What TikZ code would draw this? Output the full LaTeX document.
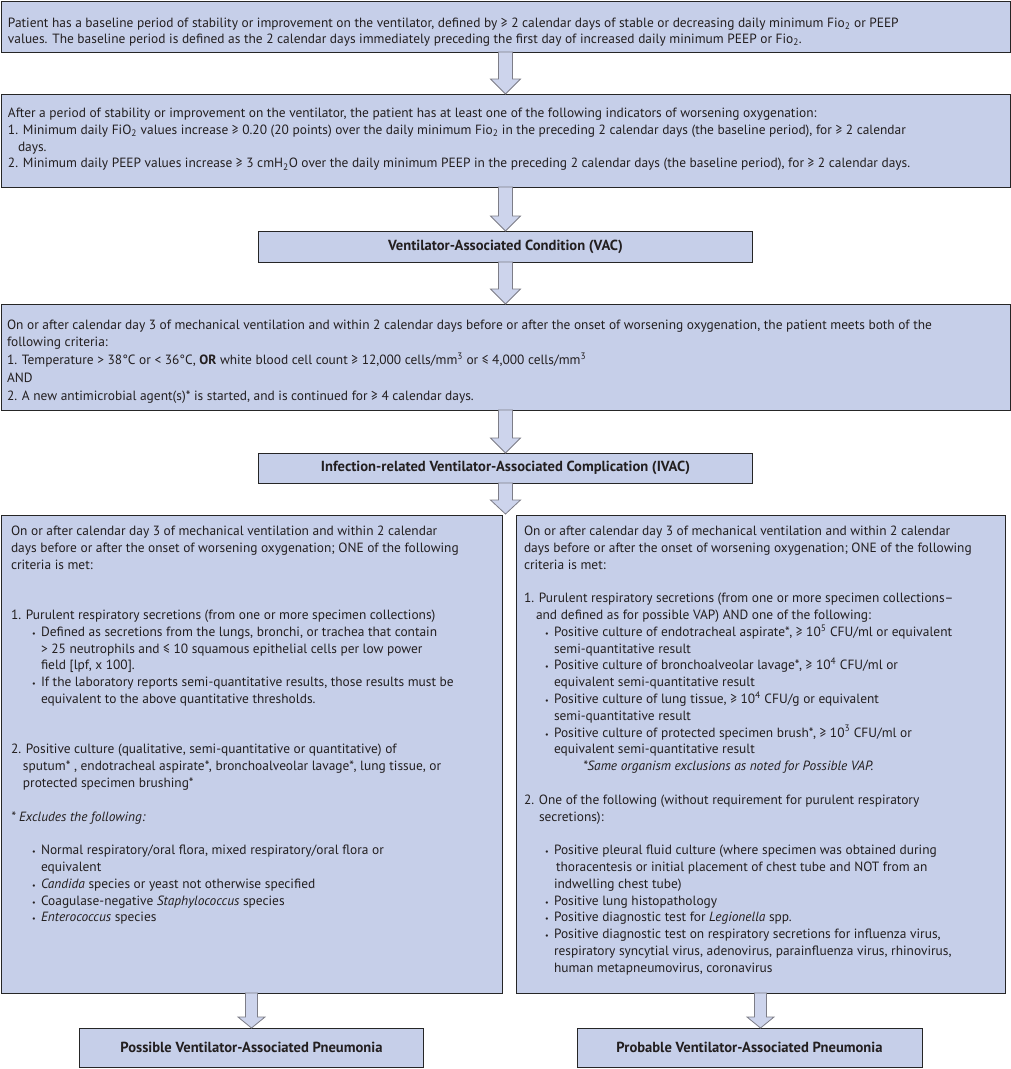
\documentclass[tikz,border=0pt]{standalone}
\usepackage{fontspec}
\setmainfont{PT Sans}
\usetikzlibrary{positioning,calc}

\definecolor{panelblue}{RGB}{198,207,233}
\definecolor{arrowblue}{RGB}{205,212,236}
\definecolor{arrowedge}{RGB}{125,125,135}
\definecolor{inkgray}{RGB}{35,31,32}

% text block of a panel: width, height, first baseline, lines
\newcommand{\boxbody}[4]{\parbox[c][#2][t]{#1}{\raggedright\rule{0pt}{#3}#4}}
\newcommand{\bul}{\hspace*{21pt}\makebox[9pt][l]{\footnotesize•}}
\newcommand{\cont}{\hspace*{30pt}}
% hollow down arrow: from, to, half shaft, half head, head length
\newcommand{\blockarrow}[5]{%
  \draw[blockarr] let \p1=(#1), \p2=(#2) in
    (\x1-#3,\y1) -- (\x1+#3,\y1) -- (\x1+#3,\y2+#5) -- (\x1+#4,\y2+#5)
    -- (\x1,\y2) -- (\x1-#4,\y2+#5) -- (\x1-#3,\y2+#5) -- cycle;}

\begin{document}
\begin{tikzpicture}[x=1pt,y=1pt,
  font=\fontsize{13.4}{16.8}\selectfont,
  panel/.style={draw=black!85,line width=1pt,fill=panelblue,text=inkgray,
                inner ysep=0pt,outer sep=0pt},
  title/.style={panel,font=\fontsize{14.6}{16}\selectfont\bfseries,
                inner sep=0pt,align=center},
  blockarr/.style={draw=arrowedge,fill=arrowblue,line width=0.8pt}
]
\useasboundingbox (0,0) rectangle (1011,-1069);

\node[panel,anchor=north west,inner xsep=7pt] (base) at (1,-1)
 {\boxbody{995pt}{51pt}{26pt}{%
  Patient has a baseline period of stability or improvement on the ventilator, defined by ≥ 2 calendar days of stable or decreasing daily minimum Fio\textsubscript{2} or PEEP\\
  values. The baseline period is defined as the 2 calendar days immediately preceding the first day of increased daily minimum PEEP or Fio\textsubscript{2}.}};
\node[panel,below=42pt of base,inner xsep=7pt] (worse)
 {\boxbody{995pt}{93pt}{23.5pt}{%
  After a period of stability or improvement on the ventilator, the patient has at least one of the following indicators of worsening oxygenation:\\
  1. Minimum daily FiO\textsubscript{2} values increase ≥ 0.20 (20 points) over the daily minimum Fio\textsubscript{2} in the preceding 2 calendar days (the baseline period), for ≥ 2 calendar\\
  \hspace*{10pt}days.\\
  2. Minimum daily PEEP values increase ≥ 3 cmH\textsubscript{2}O over the daily minimum PEEP in the preceding 2 calendar days (the baseline period), for ≥ 2 calendar days.}};
\node[title,below=44pt of worse,minimum width=494pt,minimum height=31pt] (vac)
 {Ventilator-Associated Condition (VAC)};
\node[panel,below=42pt of vac,inner xsep=6pt,
      font=\fontsize{13.4}{17.9}\selectfont] (crit)
 {\boxbody{997pt}{106pt}{25pt}{%
  On or after calendar day 3 of mechanical ventilation and within 2 calendar days before or after the onset of worsening oxygenation, the patient meets both of the\\
  following criteria:\\
  1. Temperature > 38°C or < 36°C, \textbf{OR} white blood cell count ≥ 12,000 cells/mm\textsuperscript{3} or ≤ 4,000 cells/mm\textsuperscript{3}\\
  AND\\
  2. A new antimicrobial agent(s)* is started, and is continued for ≥ 4 calendar days.}};
\node[title,below=43pt of crit,minimum width=494pt,minimum height=30pt] (ivac)
 {Infection-related Ventilator-Associated Complication (IVAC)};
\coordinate[below=31pt of ivac] (split);

\node[panel,anchor=north west,inner xsep=10pt] (possbox) at (1,-515)
 {\boxbody{481pt}{478pt}{20.5pt}{%
  On or after calendar day 3 of mechanical ventilation and within 2 calendar\\
  days before or after the onset of worsening oxygenation; ONE of the following\\
  criteria is met:\\[33.6pt]
  1. Purulent respiratory secretions (from one or more specimen collections)\\
  \bul Defined as secretions from the lungs, bronchi, or trachea that contain\\
  \cont > 25 neutrophils and ≤ 10 squamous epithelial cells per low power\\
  \cont field [lpf, x 100].\\
  \bul If the laboratory reports semi-quantitative results, those results must be\\
  \cont equivalent to the above quantitative thresholds.\\[33.6pt]
  2. Positive culture (qualitative, semi-quantitative or quantitative) of\\
  \hspace*{12pt}sputum* , endotracheal aspirate*, bronchoalveolar lavage*, lung tissue, or\\
  \hspace*{12pt}protected specimen brushing*\\[16.8pt]
  \textit{* Excludes the following:}\\[16.8pt]
  \bul Normal respiratory/oral flora, mixed respiratory/oral flora or\\
  \cont equivalent\\
  \bul \textit{Candida} species or yeast not otherwise specified\\
  \bul Coagulase-negative \textit{Staphylococcus} species\\
  \bul \textit{Enterococcus} species}};
\node[panel,anchor=north west,inner xsep=8pt] (probbox) at (516,-515)
 {\boxbody{473pt}{478pt}{20.5pt}{%
  On or after calendar day 3 of mechanical ventilation and within 2 calendar\\
  days before or after the onset of worsening oxygenation; ONE of the following\\
  criteria is met:\\[16.8pt]
  1. Purulent respiratory secretions (from one or more specimen collections–\\
  \hspace*{12pt}and defined as for possible VAP) AND one of the following:\\
  \bul Positive culture of endotracheal aspirate*, ≥ 10\textsuperscript{5} CFU/ml or equivalent\\
  \cont semi-quantitative result\\
  \bul Positive culture of bronchoalveolar lavage*, ≥ 10\textsuperscript{4} CFU/ml or\\
  \cont equivalent semi-quantitative result\\
  \bul Positive culture of lung tissue, ≥ 10\textsuperscript{4} CFU/g or equivalent\\
  \cont semi-quantitative result\\
  \bul Positive culture of protected specimen brush*, ≥ 10\textsuperscript{3} CFU/ml or\\
  \cont equivalent semi-quantitative result\\
  \hspace*{59pt}\textit{*Same organism exclusions as noted for Possible VAP.}\\[16.8pt]
  2. One of the following (without requirement for purulent respiratory\\
  \hspace*{15pt}secretions):\\[16.8pt]
  \bul Positive pleural fluid culture (where specimen was obtained during\\
  \hspace*{32pt}thoracentesis or initial placement of chest tube and NOT from an\\
  \cont indwelling chest tube)\\
  \bul Positive lung histopathology\\
  \bul Positive diagnostic test for \textit{Legionella} spp.\\
  \bul Positive diagnostic test on respiratory secretions for influenza virus,\\
  \cont respiratory syncytial virus, adenovirus, parainfluenza virus, rhinovirus,\\
  \cont human metapneumovirus, coronavirus}};

\node[title,below=35pt of possbox,minimum width=344pt,minimum height=39pt] (possible)
 {Possible Ventilator-Associated Pneumonia};
\node[title,below=35pt of probbox,xshift=-11pt,minimum width=345pt,minimum height=39pt] (probable)
 {Probable Ventilator-Associated Pneumonia};

\blockarrow{base.south}{worse.north}{7pt}{15pt}{15pt}
\blockarrow{worse.south}{vac.north}{7pt}{15pt}{15pt}
\blockarrow{vac.south}{crit.north}{7pt}{15pt}{15pt}
\blockarrow{crit.south}{ivac.north}{7pt}{15pt}{15pt}
\blockarrow{ivac.south}{split}{7pt}{15pt}{14pt}
\blockarrow{possbox.south}{possible.north}{6pt}{13.5pt}{11pt}
\blockarrow{probbox.south}{probable.north}{6pt}{13.5pt}{11pt}
\end{tikzpicture}
\end{document}
